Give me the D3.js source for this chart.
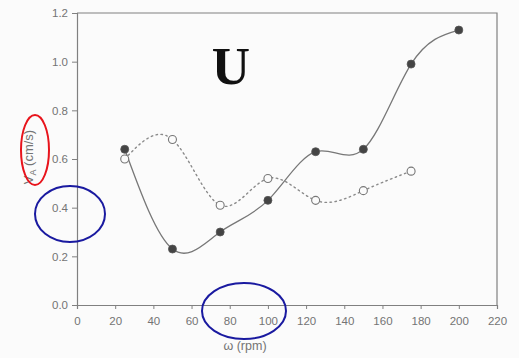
<!DOCTYPE html>
<html>
<head>
<meta charset="utf-8">
<script src="https://cdn.jsdelivr.net/npm/d3@7"></script>
<style>
  html, body { margin: 0; padding: 0; background: #fbfbfb; }
  svg { display: block; }
</style>
</head>
<body>
<svg id="chart" width="519" height="358"></svg>
<script>
// Rotation speed (rpm) and the two velocity series
const rpmFilled = [25, 50, 75, 100, 125, 150, 175, 200];
const vFilled   = [0.64, 0.23, 0.30, 0.43, 0.63, 0.64, 0.99, 1.13];
const rpmOpen   = [25, 50, 75, 100, 125, 150, 175];
const vOpen     = [0.60, 0.68, 0.41, 0.52, 0.43, 0.47, 0.55];
const xTicks = [0, 20, 40, 60, 80, 100, 120, 140, 160, 180, 200, 220];
const yTicks = [0.0, 0.2, 0.4, 0.6, 0.8, 1.0, 1.2];

const svg = d3.select("#chart");
const plotL = 77, plotR = 497, plotT = 13, plotB = 305;

const x = d3.scaleLinear().domain([0, 220]).range([plotL, plotR]);
const y = d3.scaleLinear().domain([0, 1.2]).range([plotB, plotT]);

const axisColor = "#808080";
const textColor = "#747474";

// frame (top and right edges)
svg.append("path")
  .attr("d", `M${plotL},${plotT}H${plotR}V${plotB}`)
  .attr("fill", "none").attr("stroke", axisColor).attr("stroke-width", 1.2);

const xAxis = svg.append("g")
  .attr("transform", `translate(0,${plotB})`)
  .call(d3.axisBottom(x).tickValues(xTicks).tickSize(4).tickPadding(8).tickFormat(d3.format("d")));
const yAxis = svg.append("g")
  .attr("transform", `translate(${plotL},0)`)
  .call(d3.axisLeft(y).tickValues(yTicks).tickSize(5).tickPadding(4).tickFormat(d3.format(".1f")));

[xAxis, yAxis].forEach(g => {
  g.select(".domain").attr("stroke", axisColor).attr("stroke-width", 1.2);
  g.selectAll(".tick line").attr("stroke", axisColor);
  g.selectAll(".tick text").attr("fill", textColor)
    .style("font-family", "Liberation Sans, Arial, sans-serif").style("font-size", "11.5px");
});

// axis titles
svg.append("text")
  .attr("x", x(88)).attr("y", 350)
  .attr("text-anchor", "middle")
  .attr("fill", textColor)
  .style("font-family", "Liberation Sans, Arial, sans-serif").style("font-size", "12.5px")
  .text("ω (rpm)");

const yTitle = svg.append("text")
  .attr("transform", "translate(33,157) rotate(-90)")
  .attr("text-anchor", "middle")
  .attr("fill", textColor)
  .style("font-family", "Liberation Sans, Arial, sans-serif").style("font-size", "13px");
yTitle.append("tspan").text("V");
yTitle.append("tspan").attr("dy", 3).style("font-size", "9px").text("A");
yTitle.append("tspan").attr("dy", -3).text(" (cm/s)");

// smooth curves
const lineGen = d3.line().x(d => x(d[0])).y(d => y(d[1])).curve(d3.curveNatural);
const filled = rpmFilled.map((r, i) => [r, vFilled[i]]);
const open = rpmOpen.map((r, i) => [r, vOpen[i]]);

svg.append("path").datum(open)
  .attr("d", lineGen).attr("fill", "none")
  .attr("stroke", "#8a8a8a").attr("stroke-width", 1.4)
  .attr("stroke-dasharray", "1.5,3.5").attr("stroke-linecap", "round");

svg.append("path").datum(filled)
  .attr("d", lineGen).attr("fill", "none")
  .attr("stroke", "#777").attr("stroke-width", 1.3);

svg.selectAll("circle.open").data(open).join("circle")
  .attr("class", "open")
  .attr("cx", d => x(d[0])).attr("cy", d => y(d[1])).attr("r", 4)
  .attr("fill", "#fbfbfb").attr("stroke", "#777").attr("stroke-width", 1.1);

svg.selectAll("circle.filled").data(filled).join("circle")
  .attr("class", "filled")
  .attr("cx", d => x(d[0])).attr("cy", d => y(d[1])).attr("r", 4)
  .attr("fill", "#444").attr("stroke", "#555").attr("stroke-width", 0.8);

// panel letter
svg.append("text")
  .attr("x", 231).attr("y", 84)
  .attr("text-anchor", "middle")
  .attr("fill", "#111")
  .style("font-family", "Liberation Serif, Times New Roman, serif").style("font-size", "53px")
  .style("font-weight", "bold")
  .text("U");

// hand-drawn highlight ellipses
svg.append("ellipse").attr("cx", 35).attr("cy", 150).attr("rx", 14).attr("ry", 35)
  .attr("fill", "none").attr("stroke", "#e8141c").attr("stroke-width", 2);
svg.append("ellipse").attr("cx", 70).attr("cy", 214).attr("rx", 35).attr("ry", 28)
  .attr("fill", "none").attr("stroke", "#1a1aa0").attr("stroke-width", 2);
svg.append("ellipse").attr("cx", 244).attr("cy", 311).attr("rx", 42).attr("ry", 28)
  .attr("fill", "none").attr("stroke", "#1a1aa0").attr("stroke-width", 2);
</script>
</body>
</html>
